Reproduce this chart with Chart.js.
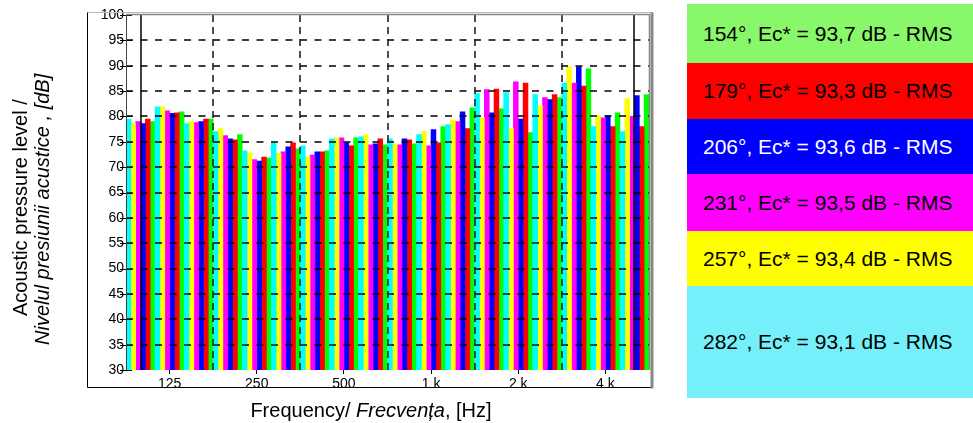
<!DOCTYPE html>
<html><head><meta charset="utf-8">
<script src="https://cdn.jsdelivr.net/npm/chart.js@4"></script>
<style>
html,body{margin:0;padding:0;background:#fff;width:973px;height:423px;overflow:hidden;font-family:"Liberation Sans",Arial,sans-serif}
#wrap{position:absolute;left:0;top:0;width:680px;height:423px}
.leg{position:absolute;left:687px;width:286px;display:flex;align-items:center;box-sizing:border-box;padding-left:16px;font-size:21px;white-space:nowrap;color:#000}
</style></head><body>
<div id="wrap"><canvas id="c" width="680" height="423"></canvas></div>
<div id="legend"></div>
<script>
// ---- data ----
const categories = ['100','125','160','200','250','315','400','500','630','800','1 k','1,25 k','1,6 k','2 k','2,5 k','3,15 k','4 k','5 k'];
const tickLabels = ['125','250','500','1 k','2 k','4 k'];
const yMin = 30, yMax = 100, yStep = 5;

const s282 = [79.5, 81.9, 78.6, 77.0, 73.2, 74.8, 74.2, 75.6, 76.0, 75.6, 76.4, 78.4, 84.5, 84.7, 84.3, 86.6, 78.0, 77.0];
const s257 = [78.6, 81.9, 79.0, 77.6, 72.8, 72.7, 72.0, 75.8, 76.4, 74.6, 77.0, 79.3, 79.7, 77.6, 82.1, 89.8, 80.1, 83.5];
const s231 = [79.0, 81.1, 78.8, 76.2, 71.5, 73.0, 72.4, 75.8, 74.4, 74.4, 74.2, 79.0, 85.3, 86.8, 83.7, 86.6, 79.7, 80.0];
const s206 = [78.6, 80.6, 79.0, 75.6, 71.2, 74.0, 73.0, 74.8, 74.6, 75.6, 77.4, 80.9, 80.7, 79.5, 83.3, 89.8, 80.1, 84.1];
const s179 = [79.5, 80.7, 79.5, 75.4, 72.0, 74.8, 73.0, 74.2, 75.6, 75.4, 74.8, 77.6, 85.4, 86.6, 84.3, 86.0, 78.0, 78.0];
const s154 = [79.0, 80.9, 79.5, 76.4, 71.8, 73.6, 73.2, 75.8, 74.4, 74.6, 78.0, 81.7, 81.5, 76.8, 83.7, 89.4, 80.7, 84.3];

const seriesLabels = ['154°, Ec* = 93,7 dB - RMS','179°, Ec* = 93,3 dB - RMS','206°, Ec* = 93,6 dB - RMS','231°, Ec* = 93,5 dB - RMS','257°, Ec* = 93,4 dB - RMS','282°, Ec* = 93,1 dB - RMS'];
const seriesValues = [s154, s179, s206, s231, s257, s282];

// ---- styles ----
const barColors = ['#00ff00','#ff0000','#0000ff','#ff00ff','#ffff00','#00ffff'];
const legendColors = ['#88f76a','#ff0000','#0000ff','#ff00ff','#ffff00','#75f0fa'];
const legendTextColors = ['#000','#000','#fff','#000','#000','#000'];
const legendTops = [4, 63, 119, 174, 231, 286];
const legendHeights = [59, 56, 55, 57, 55, 112];

// bars are drawn in reverse legend order (282° first)
const datasets = [];
for (let i = seriesValues.length - 1; i >= 0; i--) {
  datasets.push({label: seriesLabels[i], data: seriesValues[i], backgroundColor: barColors[i], borderWidth: 0,
    barPercentage: 1.0, categoryPercentage: 1.0});
}

// HTML legend
const lg = document.getElementById('legend');
seriesLabels.forEach((t, i) => {
  const d = document.createElement('div');
  d.className = 'leg';
  d.style.top = legendTops[i] + 'px';
  d.style.height = legendHeights[i] + 'px';
  d.style.background = legendColors[i];
  d.style.color = legendTextColors[i];
  d.textContent = t;
  lg.appendChild(d);
});

const FONT = '"Liberation Sans", Arial, sans-serif';

const overlay = {
  id: 'overlay',
  afterDatasetsDraw(chart) {
    const {ctx, chartArea: a, scales: {x, y}} = chart;
    ctx.save();
    // horizontal dashed grid
    ctx.setLineDash([7, 7.5]);
    ctx.strokeStyle = '#000';
    ctx.lineWidth = 1.6;
    y.ticks.forEach(t => {
      if (t.value <= yMin || t.value >= yMax) return;
      const py = Math.round(y.getPixelForValue(t.value));
      ctx.beginPath(); ctx.moveTo(a.left, py); ctx.lineTo(a.right, py); ctx.stroke();
    });
    // y tick marks
    ctx.setLineDash([]);
    ctx.lineWidth = 1;
    y.ticks.forEach(t => {
      const py = Math.round(y.getPixelForValue(t.value)) + 0.5;
      ctx.beginPath(); ctx.moveTo(a.left - 6, py); ctx.lineTo(a.left + 6, py); ctx.stroke();
    });
    // vertical octave separators
    ctx.setLineDash([7, 5]);
    ctx.strokeStyle = '#222';
    ctx.lineWidth = 1.6;
    for (let i = 3; i < categories.length; i += 3) {
      const px = Math.round((x.getPixelForValue(i - 1) + x.getPixelForValue(i)) / 2);
      ctx.beginPath(); ctx.moveTo(px, a.top); ctx.lineTo(px, a.bottom); ctx.stroke();
    }
    // solid lines at first and last band centres
    ctx.setLineDash([]);
    ctx.strokeStyle = '#000';
    ctx.lineWidth = 1.5;
    [0, categories.length - 1].forEach(i => {
      const px = Math.round(x.getPixelForValue(i));
      ctx.beginPath(); ctx.moveTo(px, a.top); ctx.lineTo(px, a.bottom); ctx.stroke();
    });
    ctx.restore();
  },
  afterDraw(chart) {
    const {ctx, chartArea: a} = chart;
    ctx.save();
    // plot borders
    ctx.strokeStyle = '#444'; ctx.lineWidth = 1;
    ctx.beginPath(); ctx.moveTo(a.left + 0.5, a.top); ctx.lineTo(a.left + 0.5, a.bottom); ctx.stroke();
    ctx.strokeStyle = '#888'; ctx.lineWidth = 1.5;
    ctx.beginPath(); ctx.moveTo(a.left, a.top - 0.5); ctx.lineTo(a.right + 1, a.top - 0.5); ctx.stroke();
    ctx.beginPath(); ctx.moveTo(a.right + 0.5, a.top); ctx.lineTo(a.right + 0.5, a.bottom); ctx.stroke();
    // outer frame
    const L = a.left - 38.5, T = a.top - 2.5, B = a.bottom + 17.5, R = a.right + 3;
    ctx.strokeStyle = '#bbb'; ctx.lineWidth = 1;
    ctx.beginPath(); ctx.moveTo(L, T); ctx.lineTo(R, T); ctx.stroke();
    ctx.strokeStyle = '#000';
    ctx.beginPath(); ctx.moveTo(L, T); ctx.lineTo(L, B); ctx.lineTo(R, B); ctx.stroke();
    ctx.strokeStyle = '#888'; ctx.lineWidth = 3;
    ctx.beginPath(); ctx.moveTo(R, T); ctx.lineTo(R, B + 1); ctx.stroke();

    // y title (two lines, rotated)
    ctx.fillStyle = '#000';
    ctx.textBaseline = 'alphabetic';
    ctx.textAlign = 'left';
    ctx.save();
    ctx.translate(27, 316);
    ctx.rotate(-Math.PI / 2);
    ctx.font = '20px ' + FONT;
    ctx.fillText('Acoustic pressure level /', 0, 0);
    ctx.restore();
    ctx.save();
    ctx.translate(49, 345);
    ctx.rotate(-Math.PI / 2);
    ctx.font = 'italic 20px ' + FONT;
    ctx.fillText('Nivelul presiunii acustice , [dB]', 0, 0);
    ctx.restore();

    // x title with italic part
    const parts = [['Frequency/ ', ''], ['Frecvența', 'italic '], [', [Hz]', '']];
    let w = 0;
    parts.forEach(p => { ctx.font = p[1] + '20px ' + FONT; w += ctx.measureText(p[0]).width; });
    let px = 371 - w / 2;
    parts.forEach(p => { ctx.font = p[1] + '20px ' + FONT; ctx.fillText(p[0], px, 417); px += ctx.measureText(p[0]).width; });
    ctx.restore();
  }
};

new Chart(document.getElementById('c'), {
  type: 'bar',
  data: {labels: categories, datasets},
  options: {
    responsive: false,
    animation: false,
    events: [],
    layout: {padding: {top: 15, right: 31, bottom: 0, left: 0}},
    plugins: {legend: {display: false}, tooltip: {enabled: false}, title: {display: false}},
    scales: {
      x: {
        afterFit(s) { s.height = 53; },
        grid: {display: true, drawOnChartArea: false, drawTicks: true, tickLength: 4, offset: false,
          color: 'rgba(0,0,0,0)',
          tickColor: (c) => tickLabels.includes(categories[c.index]) ? '#000' : 'rgba(0,0,0,0)'},
        border: {display: false},
        ticks: {autoSkip: false, maxRotation: 0, minRotation: 0, padding: 2, color: '#000',
          font: {family: FONT, size: 14},
          callback: (v, i) => tickLabels.includes(categories[i]) ? categories[i] : ''}
      },
      y: {
        min: yMin, max: yMax,
        afterFit(s) { s.width = 126; },
        grid: {display: false, drawTicks: false},
        border: {display: false},
        ticks: {stepSize: yStep, padding: 2, color: '#000', font: {family: FONT, size: 14}}
      }
    }
  },
  plugins: [overlay]
});
</script>
</body></html>
